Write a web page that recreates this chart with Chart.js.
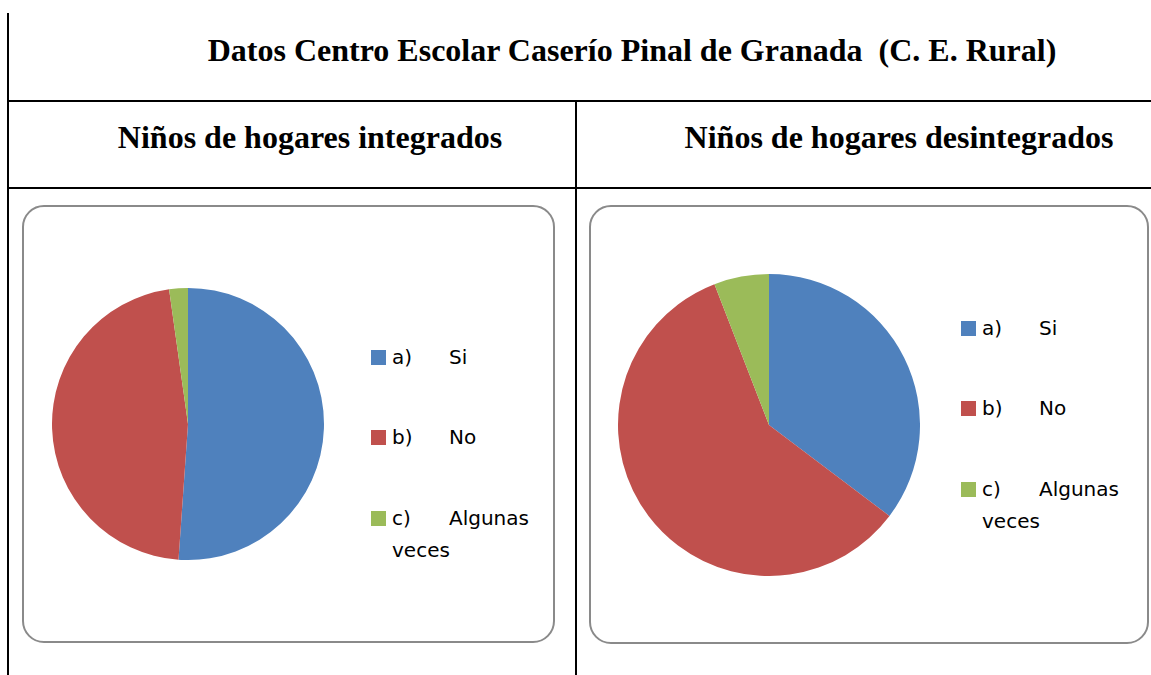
<!DOCTYPE html>
<html>
<head>
<meta charset="utf-8">
<script src="https://cdn.jsdelivr.net/npm/chart.js@4.4.0/dist/chart.umd.min.js"></script>
<style>
  body { margin: 0; width: 1151px; height: 675px; background: #fff; position: relative; overflow: hidden; }
  .line { position: absolute; background: #000; }
  .head { position: absolute; font-family: "Liberation Serif", serif; font-weight: bold; font-size: 32px; color: #000; white-space: pre; text-align: center; }
  .box { position: absolute; border: 2px solid #8a8a8a; border-radius: 22px; box-sizing: border-box; background: #fff; }
  canvas { position: absolute; }
  .legend { position: absolute; font-family: "DejaVu Sans", sans-serif; font-size: 20px; color: #000; }
  .item { position: absolute; left: 0; width: 170px; line-height: 32px; }
  .sw { position: absolute; left: 0; top: 9px; width: 15px; height: 15px; }
  .lab { position: absolute; left: 21px; }
  .txt { position: absolute; left: 78px; }
  .cont { position: absolute; left: 21px; top: 32px; }
</style>
</head>
<body>
<div class="line" style="left:7px;top:13px;width:2px;height:662px"></div>
<div class="line" style="left:7px;top:100px;width:1144px;height:2px"></div>
<div class="line" style="left:575px;top:101px;width:2px;height:574px"></div>
<div class="line" style="left:7px;top:187px;width:1144px;height:2px"></div>

<div class="head" id="title" style="left:32px;width:1200px;top:32px"></div>
<div class="head" id="head1" style="left:10px;width:600px;top:119px"></div>
<div class="head" id="head2" style="left:599px;width:600px;top:119px"></div>

<div class="box" style="left:22px;top:205px;width:533px;height:438px"></div>
<div class="box" style="left:589px;top:205px;width:560px;height:439px"></div>

<canvas id="pie1" width="272" height="272" style="left:52px;top:288px"></canvas>
<canvas id="pie2" width="302" height="302" style="left:618px;top:274px"></canvas>

<div class="legend" id="leg1" style="left:371px;top:341px"></div>
<div class="legend" id="leg2" style="left:961px;top:312px"></div>

<script>
const titleText = "Datos Centro Escolar Caserío Pinal de Granada  (C. E. Rural)";
const panelTitles = ["Niños de hogares integrados", "Niños de hogares desintegrados"];
const labelKeys = ["a)", "b)", "c)"];
const labelNames = ["Si", "No", "Algunas"];
const labelContinued = ["", "", "veces"];
const colors = ["#4F81BD", "#C0504D", "#9BBB59"];
const integrados = [23, 21, 1];
const desintegrados = [6, 10, 1];

document.getElementById("title").textContent = titleText;
document.getElementById("head1").textContent = panelTitles[0];
document.getElementById("head2").textContent = panelTitles[1];

function buildLegend(id) {
  const leg = document.getElementById(id);
  const tops = [0, 80, 161];
  labelKeys.forEach(function (k, i) {
    const item = document.createElement("div");
    item.className = "item";
    item.style.top = tops[i] + "px";
    const sw = document.createElement("div");
    sw.className = "sw";
    sw.style.background = colors[i];
    const lab = document.createElement("span");
    lab.className = "lab";
    lab.textContent = k;
    const txt = document.createElement("span");
    txt.className = "txt";
    txt.textContent = labelNames[i];
    item.appendChild(sw);
    item.appendChild(lab);
    item.appendChild(txt);
    if (labelContinued[i]) {
      const c = document.createElement("span");
      c.className = "cont";
      c.textContent = labelContinued[i];
      item.appendChild(c);
    }
    leg.appendChild(item);
  });
}

function makePie(id, values) {
  return new Chart(document.getElementById(id).getContext("2d"), {
    type: "pie",
    data: {
      labels: labelKeys.map(function (k, i) { return k + " " + labelNames[i] + (labelContinued[i] ? " " + labelContinued[i] : ""); }),
      datasets: [{ data: values, backgroundColor: colors, borderWidth: 0 }]
    },
    options: {
      responsive: false,
      animation: false,
      layout: { padding: 0 },
      plugins: { legend: { display: false }, tooltip: { enabled: false } }
    }
  });
}

buildLegend("leg1");
buildLegend("leg2");
makePie("pie1", integrados);
makePie("pie2", desintegrados);
</script>
</body>
</html>
